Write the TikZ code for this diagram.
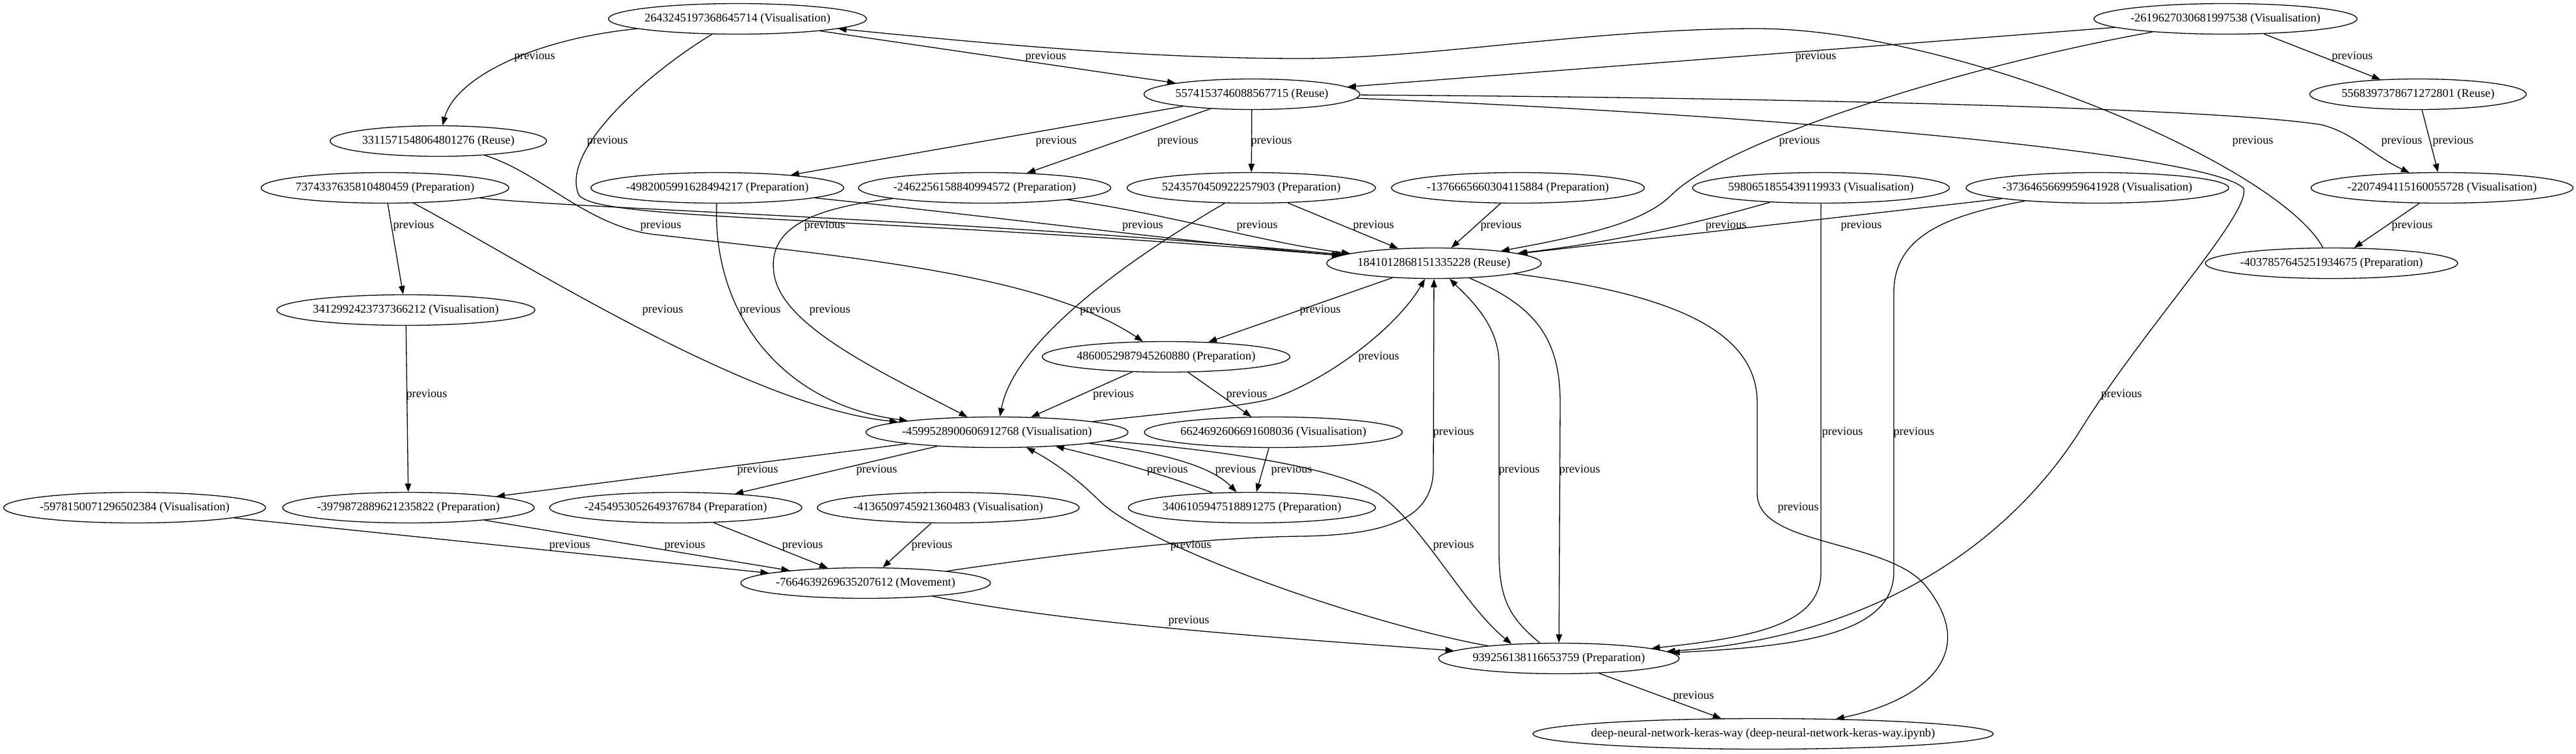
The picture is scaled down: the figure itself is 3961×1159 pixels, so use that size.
\documentclass[tikz,border=0pt]{standalone}
\usepackage{fontspec}
\usetikzlibrary{shapes.geometric,arrows.meta}
\newfontfamily\gvfam{Liberation Serif}
\newcommand\gvfont{\gvfam\fontsize{18.28}{22}\selectfont}
\tikzset{
  nd/.style={draw, ellipse, line width=1.3pt, minimum height=47pt, inner xsep=-30pt, inner ysep=0pt, font=\gvfont},
  e/.style={draw, line width=1.3pt, -{Triangle[length=13pt,width=9.5pt]}},
  lab/.style={font=\gvfont, inner sep=0pt}
}
\begin{document}
\begin{tikzpicture}[x=1pt,y=-1pt]
\path[use as bounding box, fill=white] (0,0) rectangle (3961,1159);
% nodes
\node[nd, minimum width=397pt] (A) at (1134,29) {2643245197368645714 (Visualisation)};
\node[nd, minimum width=332pt] (B) at (1925,145) {5574153746088567715 (Reuse)};
\node[nd, minimum width=405pt] (C) at (3422,29) {-2619627030681997538 (Visualisation)};
\node[nd, minimum width=333pt] (D) at (3718,145) {5568397378671272801 (Reuse)};
\node[nd, minimum width=333pt] (E) at (674,217) {3311571548064801276 (Reuse)};
\node[nd, minimum width=381pt] (F) at (592,289) {7374337635810480459 (Preparation)};
\node[nd, minimum width=389pt] (G) at (1103,289) {-4982005991628494217 (Preparation)};
\node[nd, minimum width=388pt] (H) at (1514,289) {-2462256158840994572 (Preparation)};
\node[nd, minimum width=382pt] (I) at (1924,289) {5243570450922257903 (Preparation)};
\node[nd, minimum width=389pt] (J) at (2334,289) {-1376665660304115884 (Preparation)};
\node[nd, minimum width=395pt] (K) at (2800,289) {5980651855439119933 (Visualisation)};
\node[nd, minimum width=404pt] (L) at (3225,289) {-3736465669959641928 (Visualisation)};
\node[nd, minimum width=403pt] (M) at (3755,289) {-2207494115160055728 (Visualisation)};
\node[nd, minimum width=330pt] (N) at (2205,405) {1841012868151335228 (Reuse)};
\node[nd, minimum width=388pt] (O) at (3585,405) {-4037857645251934675 (Preparation)};
\node[nd, minimum width=397pt] (P) at (624,477) {3412992423737366212 (Visualisation)};
\node[nd, minimum width=381pt] (Q) at (1793,549) {4860052987945260880 (Preparation)};
\node[nd, minimum width=403pt] (R) at (1533,665) {-4599528900606912768 (Visualisation)};
\node[nd, minimum width=397pt] (S) at (1958,665) {6624692606691608036 (Visualisation)};
\node[nd, minimum width=403pt] (T) at (207,781) {-5978150071296502384 (Visualisation)};
\node[nd, minimum width=387pt] (U) at (628,781) {-3979872889621235822 (Preparation)};
\node[nd, minimum width=388pt] (V) at (1039,781) {-2454953052649376784 (Preparation)};
\node[nd, minimum width=403pt] (W) at (1458,781) {-4136509745921360483 (Visualisation)};
\node[nd, minimum width=380pt] (X) at (1925,781) {3406105947518891275 (Preparation)};
\node[nd, minimum width=384pt] (Y) at (1331,897) {-7664639269635207612 (Movement)};
\node[nd, minimum width=370pt] (Z) at (2397,1013) {939256138116653759 (Preparation)};
\node[nd, minimum width=708pt] (DNN) at (2711,1129) {deep-neural-network-keras-way (deep-neural-network-keras-way.ipynb)};
% edges
\draw[e] (A) .. controls (820,60) and (700,120) .. (E) node[lab] at (822,87) {previous};
\draw[e] (A) -- (B) node[lab] at (1608,87) {previous};
\draw[e] (O) .. controls (3500,250) and (3000,44) .. (2701,44) .. controls (2450,44) and (2200,90) .. (2000,90) .. controls (1750,90) and (1500,65) .. (A) node[lab] at (3464,217) {previous};
\draw[e] (C) -- (B) node[lab] at (2792,87) {previous};
\draw[e] (C) -- (D) node[lab] at (3617,87) {previous};
\draw[e] (C) .. controls (3000,105) and (2650,220) .. (2570,300) .. controls (2530,340) and (2450,360) .. (N) node[lab] at (2767,217) {previous};
\draw[e] (D) -- (M) node[lab] at (3772,217) {previous};
\draw[e] (M) -- (O) node[lab] at (3709,347) {previous};
\draw[e] (B) -- (G) node[lab] at (1624,217) {previous};
\draw[e] (B) -- (H) node[lab] at (1811,217) {previous};
\draw[e] (B) -- (I) node[lab] at (1955,217) {previous};
\draw[e] (B) .. controls (2700,150) and (3400,165) .. (3570,192) .. controls (3620,205) and (3650,240) .. (M) node[lab] at (3693,217) {previous};
\draw[e] (B) .. controls (2700,175) and (3400,235) .. (3450,290) .. controls (3460,330) and (3300,500) .. (3200,660) .. controls (3100,820) and (2900,980) .. (Z) node[lab] at (3262,607) {previous};
\draw[e] (A) .. controls (1000,110) and (860,230) .. (890,300) .. controls (920,340) and (1300,330) .. (N) node[lab] at (934,217) {previous};
\draw[e] (E) .. controls (830,265) and (900,345) .. (1000,360) .. controls (1300,395) and (1600,420) .. (Q) node[lab] at (1016,347) {previous};
\draw[e] (F) .. controls (900,322) and (1500,338) .. (N) node[lab] at (1268,347) {previous};
\draw[e] (F) -- (P) node[lab] at (636,347) {previous};
\draw[e] (F) .. controls (800,400) and (1150,625) .. (R) node[lab] at (1019,477) {previous};
\draw[e] (G) .. controls (1500,330) and (1850,375) .. (N) node[lab] at (1757,347) {previous};
\draw[e] (H) .. controls (1800,330) and (1950,375) .. (N) node[lab] at (1933,347) {previous};
\draw[e] (I) -- (N) node[lab] at (2112,347) {previous};
\draw[e] (G) .. controls (1095,480) and (1200,622) .. (R) node[lab] at (1169,477) {previous};
\draw[e] (H) .. controls (1250,320) and (1180,350) .. (1190,420) .. controls (1200,500) and (1350,570) .. (R) node[lab] at (1276,477) {previous};
\draw[e] (I) .. controls (1750,390) and (1560,520) .. (R) node[lab] at (1692,477) {previous};
\draw[e] (J) -- (N) node[lab] at (2308,347) {previous};
\draw[e] (K) .. controls (2620,340) and (2500,370) .. (N) node[lab] at (2654,347) {previous};
\draw[e] (L) -- (N) node[lab] at (2862,347) {previous};
\draw[e] (K) -- (2800,880) .. controls (2800,960) and (2700,980) .. (Z) node[lab] at (2833,665) {previous};
\draw[e] (L) .. controls (3000,330) and (2912,360) .. (2912,450) -- (2912,880) .. controls (2912,980) and (2750,995) .. (Z) node[lab] at (2943,665) {previous};
\draw[e] (N) -- (Q) node[lab] at (2030,477) {previous};
\draw[e] (N) .. controls (2360,470) and (2399,520) .. (2399,620) -- (Z) node[lab] at (2429,723) {previous};
\draw[e] (Z) .. controls (2320,950) and (2305,920) .. (2305,850) -- (2305,560) .. controls (2305,500) and (2260,460) .. (N) node[lab] at (2336,723) {previous};
\draw[e] (Y) .. controls (1650,850) and (1850,827) .. (2000,825) .. controls (2150,823) and (2204,790) .. (2204,720) -- (N) node[lab] at (2235,665) {previous};
\draw[e] (R) .. controls (1800,635) and (1920,625) .. (1960,612) .. controls (2050,580) and (2150,500) .. (N) node[lab] at (2120,549) {previous};
\draw[e] (Q) -- (R) node[lab] at (1712,607) {previous};
\draw[e] (Q) -- (S) node[lab] at (1917,607) {previous};
\draw[e] (P) -- (U) node[lab] at (656,607) {previous};
\draw[e] (R) -- (U) node[lab] at (1165,723) {previous};
\draw[e] (R) -- (V) node[lab] at (1348,723) {previous};
\draw[e] (R) .. controls (1780,695) and (1860,715) .. (X) node[lab] at (1900,723) {previous};
\draw[e] (X) .. controls (1790,730) and (1700,705) .. (R) node[lab] at (1795,723) {previous};
\draw[e] (S) -- (X) node[lab] at (1986,723) {previous};
\draw[e] (R) .. controls (1850,690) and (2050,715) .. (2120,760) .. controls (2190,810) and (2250,930) .. (Z.163) node[lab] at (2235,839) {previous};
\draw[e] (Z) .. controls (2100,960) and (1760,840) .. (1690,770) .. controls (1650,730) and (1610,705) .. (R) node[lab] at (1831,839) {previous};
\draw[e] (Y) .. controls (1650,960) and (1950,980) .. (Z) node[lab] at (1828,955) {previous};
\draw[e] (T) -- (Y) node[lab] at (876,839) {previous};
\draw[e] (U) -- (Y) node[lab] at (1053,839) {previous};
\draw[e] (V) -- (Y) node[lab] at (1234,839) {previous};
\draw[e] (W) -- (Y) node[lab] at (1433,839) {previous};
\draw[e] (N) .. controls (2550,450) and (2702,500) .. (2702,620) -- (2702,760) .. controls (2702,840) and (2900,830) .. (2960,900) .. controls (3050,1010) and (2950,1080) .. (DNN) node[lab] at (2765,781) {previous};
\draw[e] (Z) -- (DNN) node[lab] at (2604,1071) {previous};
\end{tikzpicture}
\end{document}
